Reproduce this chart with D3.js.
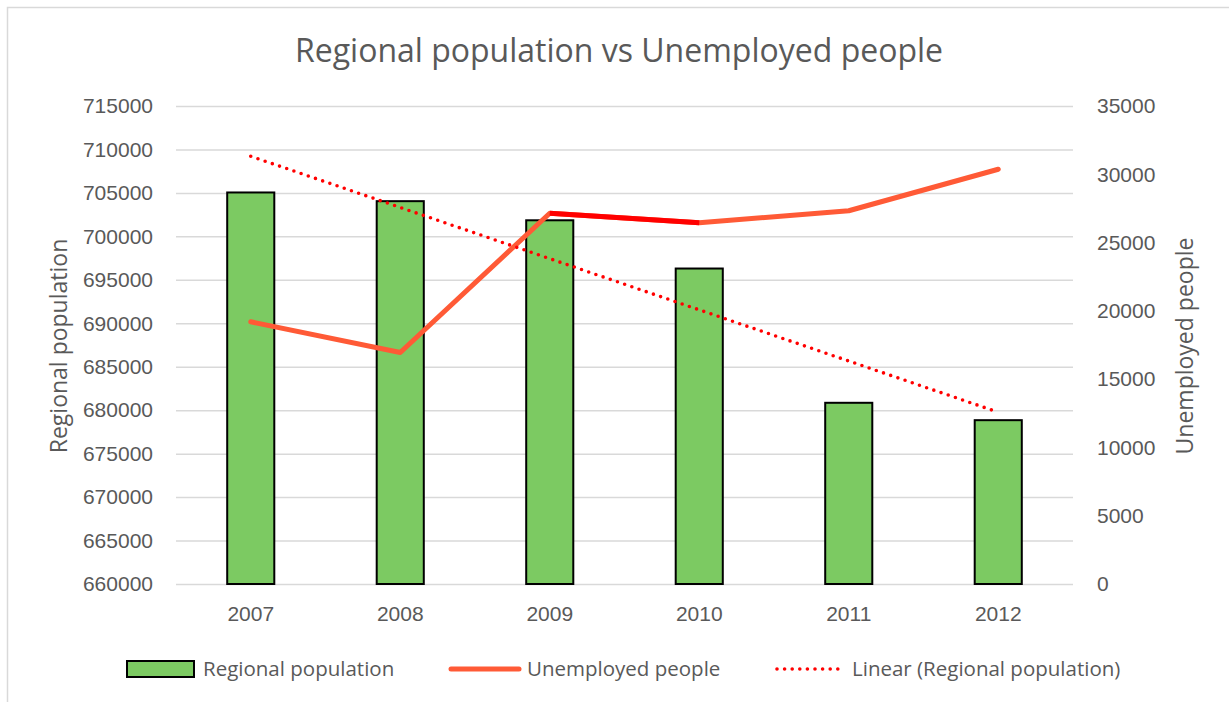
<!DOCTYPE html>
<html>
<head>
<meta charset="utf-8">
<script src="https://cdn.jsdelivr.net/npm/d3@7"></script>
<style>
  html, body { margin: 0; padding: 0; background: #fff; }
  svg { display: block; font-family: "Open Sans", "Segoe UI", sans-serif; }
</style>
</head>
<body>
<svg id="chart" width="1229" height="702"></svg>
<script>
// Years on the category axis
const years = ["2007", "2008", "2009", "2010", "2011", "2012"];
// Regional population (bars, left axis)
const population = [705050, 704050, 701850, 696300, 680850, 678850];
// Unemployed people (line, right axis)
const unemployed = [19200, 16950, 27150, 26450, 27330, 30370];
// Tick values
const leftTicks = d3.range(660000, 715001, 5000);
const rightTicks = d3.range(0, 35001, 5000);
// Segment of the unemployment line drawn in pure red
const redSegment = ["2009", "2010"];

const svg = d3.select("#chart");
const W = 1229, H = 702;
const plot = { left: 176, right: 1073, top: 106, bottom: 584 };

const grey = "#595959";
const gridColor = "#d9d9d9";
const tickFont = 21;

// Outer chart border
svg.append("rect")
  .attr("x", 7.5).attr("y", 7.5)
  .attr("width", W + 10).attr("height", H + 10)
  .attr("fill", "none").attr("stroke", gridColor).attr("stroke-width", 1.5);

// Scales
const x = d3.scaleBand().domain(years).range([plot.left, plot.right]).padding(0);
const yL = d3.scaleLinear().domain([660000, 715000]).range([plot.bottom, plot.top]);
const yR = d3.scaleLinear().domain([0, 35000]).range([plot.bottom, plot.top]);
const cx = d => x(d) + x.bandwidth() / 2;

// Gridlines + left axis
const leftAxis = d3.axisLeft(yL).tickValues(leftTicks)
  .tickSize(-(plot.right - plot.left)).tickPadding(23).tickFormat(d3.format("d"));
const gL = svg.append("g").attr("transform", `translate(${plot.left},0)`).call(leftAxis);
gL.select(".domain").remove();
gL.selectAll(".tick line").attr("stroke", gridColor).attr("stroke-width", 1.5);
gL.selectAll(".tick text").attr("fill", grey).attr("font-size", tickFont);

// Right axis (labels only)
const rightAxis = d3.axisRight(yR).tickValues(rightTicks).tickSize(0).tickPadding(24)
  .tickFormat(d3.format("d"));
const gR = svg.append("g").attr("transform", `translate(${plot.right},0)`).call(rightAxis);
gR.select(".domain").remove();
gR.selectAll(".tick text").attr("fill", grey).attr("font-size", tickFont);

// Category axis
const bottomAxis = d3.axisBottom(x).tickSize(0).tickPadding(22);
const gB = svg.append("g").attr("transform", `translate(0,${plot.bottom})`).call(bottomAxis);
gB.select(".domain").remove();
gB.selectAll(".tick text").attr("fill", grey).attr("font-size", tickFont);

// Bars
const barW = x.bandwidth() * 0.315;
svg.append("g").selectAll("rect")
  .data(years.map((y, i) => ({ year: y, v: population[i] })))
  .join("rect")
  .attr("x", d => cx(d.year) - barW / 2)
  .attr("y", d => yL(d.v))
  .attr("width", barW)
  .attr("height", d => yL(660000) - yL(d.v))
  .attr("fill", "#7cca62")
  .attr("stroke", "#000").attr("stroke-width", 2);

// Linear trend of regional population (least squares on year index)
const n = population.length;
const xs = d3.range(1, n + 1);
const mx = d3.mean(xs), my = d3.mean(population);
const slope = d3.sum(xs, (xi, i) => (xi - mx) * (population[i] - my)) / d3.sum(xs, xi => (xi - mx) ** 2);
const intercept = my - slope * mx;
const trend = years.map((y, i) => ({ year: y, v: intercept + slope * (i + 1) }));

// Unemployment line
const uPts = years.map((y, i) => ({ year: y, v: unemployed[i] }));
const uLine = d3.line().x(d => cx(d.year)).y(d => yR(d.v));
svg.append("path").datum(uPts)
  .attr("d", uLine)
  .attr("fill", "none").attr("stroke", "#ff5a36").attr("stroke-width", 5)
  .attr("stroke-linecap", "round").attr("stroke-linejoin", "round");
svg.append("path").datum(uPts.filter(d => redSegment.includes(d.year)))
  .attr("d", uLine)
  .attr("fill", "none").attr("stroke", "#ff0000").attr("stroke-width", 5)
  .attr("stroke-linejoin", "round");

// Trend line (dotted)
svg.append("path").datum(trend)
  .attr("d", d3.line().x(d => cx(d.year)).y(d => yL(d.v)))
  .attr("fill", "none").attr("stroke", "#ff0000").attr("stroke-width", 3.6)
  .attr("stroke-linecap", "round").attr("stroke-dasharray", "0 7.6");

// Title
svg.append("text")
  .attr("x", 619).attr("y", 62)
  .attr("text-anchor", "middle")
  .attr("fill", grey).attr("font-size", 32)
  .text("Regional population vs Unemployed people");

// Axis titles
svg.append("text")
  .attr("transform", `translate(67,346) rotate(-90)`)
  .attr("text-anchor", "middle").attr("fill", grey).attr("font-size", 23)
  .text("Regional population");
svg.append("text")
  .attr("transform", `translate(1193,346) rotate(-90)`)
  .attr("text-anchor", "middle").attr("fill", grey).attr("font-size", 23)
  .text("Unemployed people");

// Legend
const lg = svg.append("g").attr("font-size", 20.5).attr("fill", grey);
const ly = 669;
lg.append("rect").attr("x", 127).attr("y", ly - 8).attr("width", 67).attr("height", 16)
  .attr("fill", "#7cca62").attr("stroke", "#000").attr("stroke-width", 2);
lg.append("text").attr("x", 203).attr("y", ly + 7).text("Regional population");
lg.append("line").attr("x1", 451).attr("x2", 519).attr("y1", ly).attr("y2", ly)
  .attr("stroke", "#ff5a36").attr("stroke-width", 5).attr("stroke-linecap", "round");
lg.append("text").attr("x", 527).attr("y", ly + 7).text("Unemployed people");
lg.append("line").attr("x1", 777).attr("x2", 845).attr("y1", ly).attr("y2", ly)
  .attr("stroke", "#ff0000").attr("stroke-width", 3.6).attr("stroke-linecap", "round")
  .attr("stroke-dasharray", "0 7.6");
lg.append("text").attr("x", 852).attr("y", ly + 7).text("Linear (Regional population)");
</script>
</body>
</html>
